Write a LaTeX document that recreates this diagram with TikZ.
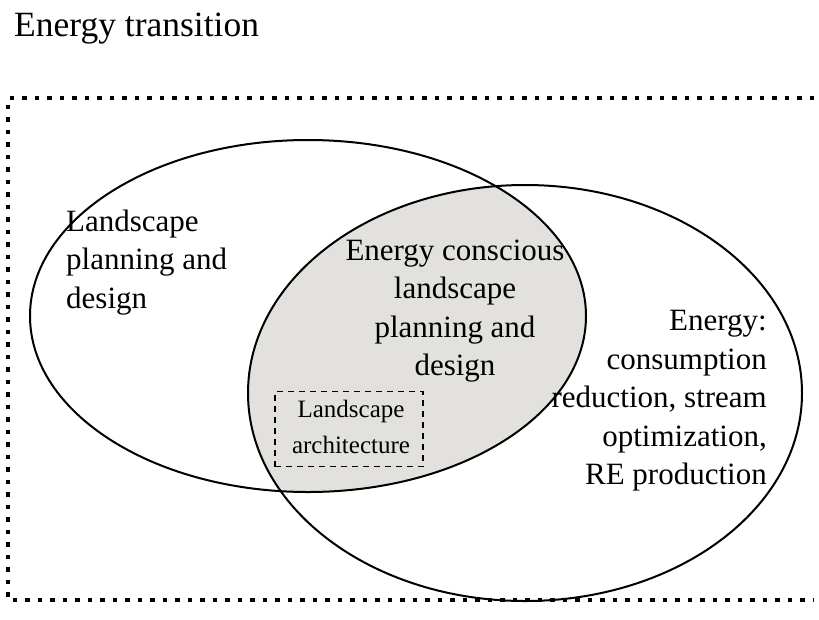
\documentclass[tikz,border=0pt]{standalone}
\usepackage{fontspec}
\setmainfont{Liberation Serif}
\definecolor{lensgray}{RGB}{226,225,222}
\tikzset{
  venn/.style={line width=2pt},
  frame/.style={line width=3.6pt, dash pattern=on 4.5pt off 8pt},
  innerbox/.style={draw, line width=1.4pt, dash pattern=on 6pt off 5pt, minimum width=148pt, minimum height=75pt, inner sep=0pt},
  bigtext/.style={font=\fontsize{31}{38.5}\selectfont, inner sep=0pt},
  smalltext/.style={font=\fontsize{25}{36}\selectfont, inner sep=0pt, align=center}
}
\begin{document}
\begin{tikzpicture}[x=1pt, y=-1pt]
      \useasboundingbox (0,0) rectangle (819,619);
      \def\lcx{308}\def\lcy{316}   % left ellipse
      \def\rcx{525}\def\rcy{393}   % right ellipse
      %
      \begin{scope}   % shaded overlap
        \clip (\lcx,\lcy) ellipse [x radius=278pt, y radius=176pt];
        \fill[lensgray] (\rcx,\rcy) ellipse [x radius=277pt, y radius=208pt];
      \end{scope}
      \draw[venn] (\lcx,\lcy) ellipse [x radius=278pt, y radius=176pt];
      \draw[venn] (\rcx,\rcy) ellipse [x radius=277pt, y radius=208pt];
      %
      \draw[frame] (814,98) -- (8,98) -- (8,600) -- (814,600);   % outer frame
      \node[anchor=base west, font=\fontsize{35.5}{40}\selectfont, inner sep=0pt] (title) at (14,36) {Energy transition};
      %
      \node[bigtext, anchor=north west, align=left] (lpd) at (66,209.5) {Landscape\\planning and\\design};
      \node[bigtext, anchor=north, align=center] (eclpd) at (455,239.5) {Energy conscious\\landscape\\planning and\\design};
      \node[bigtext, anchor=north east, align=right] (energy) at (767,310) {Energy:\\consumption\\reduction, stream\\optimization,\\RE production};
      %
      \node[innerbox] (la) at (349,429) {};
      \node[smalltext, anchor=north] (latext) at (351,400) {Landscape\\architecture};
    \end{tikzpicture}
\end{document}
